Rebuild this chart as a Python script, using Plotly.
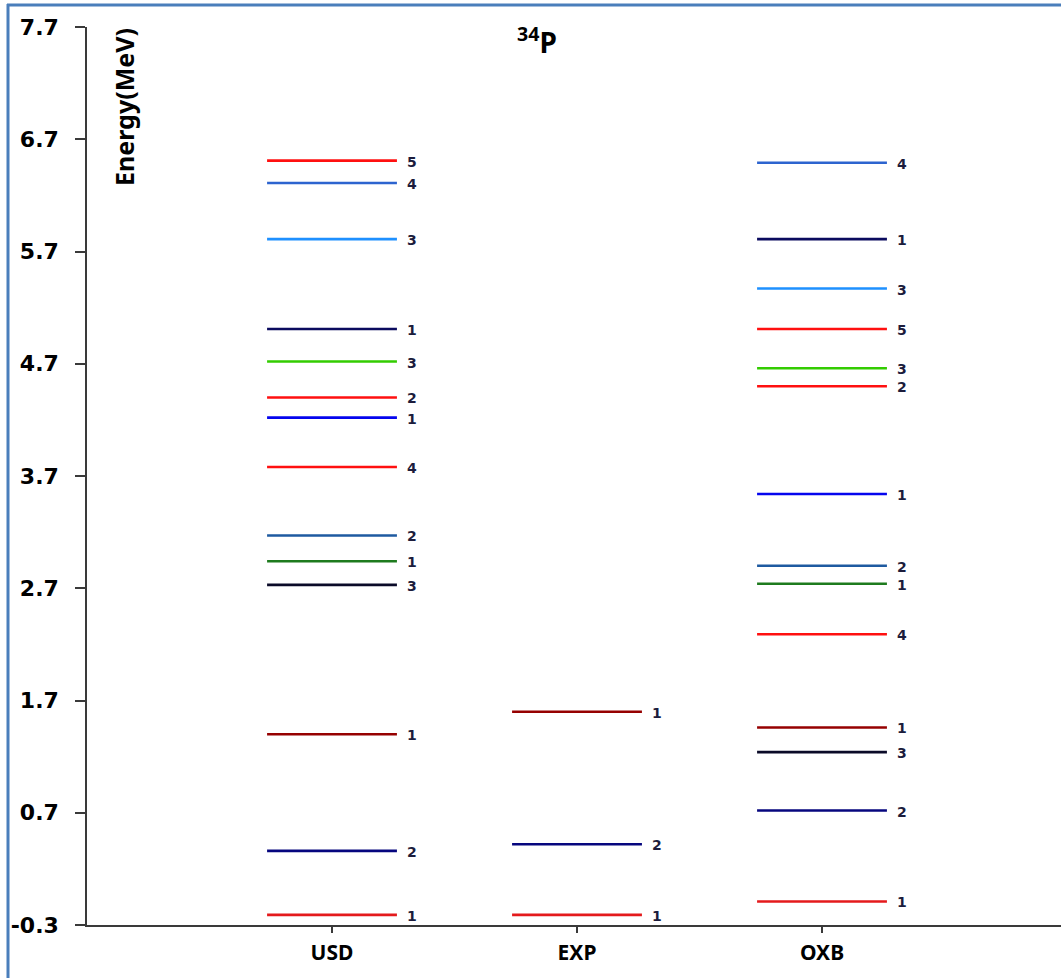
import plotly.graph_objects as go

# ---------------- data ----------------
categories = ["USD", "EXP", "OXB"]

usd_energy = [6.51, 6.31, 5.81, 5.01, 4.72, 4.40, 4.22, 3.78, 3.17, 2.94, 2.73, 1.40, 0.36, -0.21]
usd_labels = ["5", "4", "3", "1", "3", "2", "1", "4", "2", "1", "3", "1", "2", "1"]

exp_energy = [1.60, 0.42, -0.21]
exp_labels = ["1", "2", "1"]

oxb_energy = [6.49, 5.81, 5.37, 5.01, 4.66, 4.50, 3.54, 2.90, 2.74, 2.29, 1.46, 1.24, 0.72, -0.09]
oxb_labels = ["4", "1", "3", "5", "3", "2", "1", "2", "1", "4", "1", "3", "2", "1"]

y_ticks = [-0.3, 0.7, 1.7, 2.7, 3.7, 4.7, 5.7, 6.7, 7.7]

# ---------------- styles ----------------
RED = "#FF1010"
GROUND = "#E41A1C"
BLUE4 = "#2D64CF"
LBLUE = "#1E90FF"
NAVY = "#0B0B5E"
LGREEN = "#33CC00"
BLUE = "#0505EE"
STEEL = "#1E5AA0"
DGREEN = "#1E7B1E"
BLACK = "#0A0A28"
DRED = "#960000"
NAVY2 = "#06067E"

usd_colors = [RED, BLUE4, LBLUE, NAVY, LGREEN, RED, BLUE, RED, STEEL, DGREEN, BLACK, DRED, NAVY2, GROUND]
exp_colors = [DRED, NAVY2, GROUND]
oxb_colors = [BLUE4, NAVY, LBLUE, RED, LGREEN, RED, BLUE, STEEL, DGREEN, RED, DRED, BLACK, NAVY2, GROUND]

HALF = 0.265
LABEL_COLOR = "#1C1C3C"

fig = go.Figure()
annotations = []

columns = [(usd_energy, usd_labels, usd_colors),
           (exp_energy, exp_labels, exp_colors),
           (oxb_energy, oxb_labels, oxb_colors)]

for ci, (energies, labels, colors) in enumerate(columns):
    xc = ci + 1
    for e, lab, col in zip(energies, labels, colors):
        fig.add_trace(go.Scatter(
            x=[xc - HALF, xc + HALF], y=[e, e], mode="lines",
            line=dict(color=col, width=2.6), showlegend=False, hoverinfo="skip"))
        annotations.append(dict(
            x=xc + HALF, y=e, xref="x", yref="y", text=lab, showarrow=False,
            xanchor="left", yanchor="middle", xshift=8, yshift=-1,
            font=dict(family="DejaVu Sans", size=14, color=LABEL_COLOR, weight="bold")))

W, H = 1061, 978
L, R, T, B = 87, 0, 27, 53
pw, ph = W - L - R, H - T - B


def px_to_paper_x(px):
    return (px - L) / pw


def px_to_paper_y(py):
    return (H - B - py) / ph


# y-axis title inside plot
annotations.append(dict(
    x=px_to_paper_x(124), y=px_to_paper_y(107), xref="paper", yref="paper",
    xanchor="center", yanchor="middle",
    text="<b>Energy(MeV)</b>", showarrow=False, textangle=-90,
    font=dict(family="Noto Sans", size=25, color="#000000")))
# chart title
annotations.append(dict(
    x=px_to_paper_x(537), y=px_to_paper_y(41), xref="paper", yref="paper",
    xanchor="center", yanchor="middle",
    text="<b><sup>34</sup>P</b>", showarrow=False,
    font=dict(family="Noto Sans", size=28, color="#000000")))

shapes = [
    dict(type="line", xref="paper", yref="paper",
         x0=px_to_paper_x(8), x1=px_to_paper_x(8), y0=px_to_paper_y(990), y1=px_to_paper_y(4),
         line=dict(color="#4A7EBB", width=3)),
    dict(type="line", xref="paper", yref="paper",
         x0=px_to_paper_x(7), x1=px_to_paper_x(1070), y0=px_to_paper_y(5), y1=px_to_paper_y(5),
         line=dict(color="#4A7EBB", width=3)),
]

fig.update_layout(
    width=W, height=H,
    margin=dict(l=L, r=R, t=T, b=B, pad=0),
    paper_bgcolor="white", plot_bgcolor="white",
    annotations=annotations, shapes=shapes,
    showlegend=False,
)

fig.update_xaxes(
    range=[0, pw / 245.0],
    tickvals=[1, 2, 3], ticktext=categories,
    showgrid=False, zeroline=False,
    showline=True, linecolor="#3A3A3A", linewidth=1.5,
    ticks="outside", ticklen=6, tickwidth=1.5, tickcolor="#3A3A3A",
    tickfont=dict(family="Noto Sans", size=21, color="#000000", weight="bold"),
    ticklabelstandoff=2,
)

fig.update_yaxes(
    range=[-0.3, 7.7],
    tickvals=y_ticks, ticktext=[f"{v:.1f}" for v in y_ticks],
    showgrid=False, zeroline=False,
    showline=True, linecolor="#3A3A3A", linewidth=1.5,
    ticks="outside", ticklen=10, tickwidth=1.5, tickcolor="#3A3A3A",
    tickfont=dict(family="DejaVu Sans", size=22, color="#000000", weight="bold"),
    ticklabelstandoff=12,
)

fig.write_html("out.html")
